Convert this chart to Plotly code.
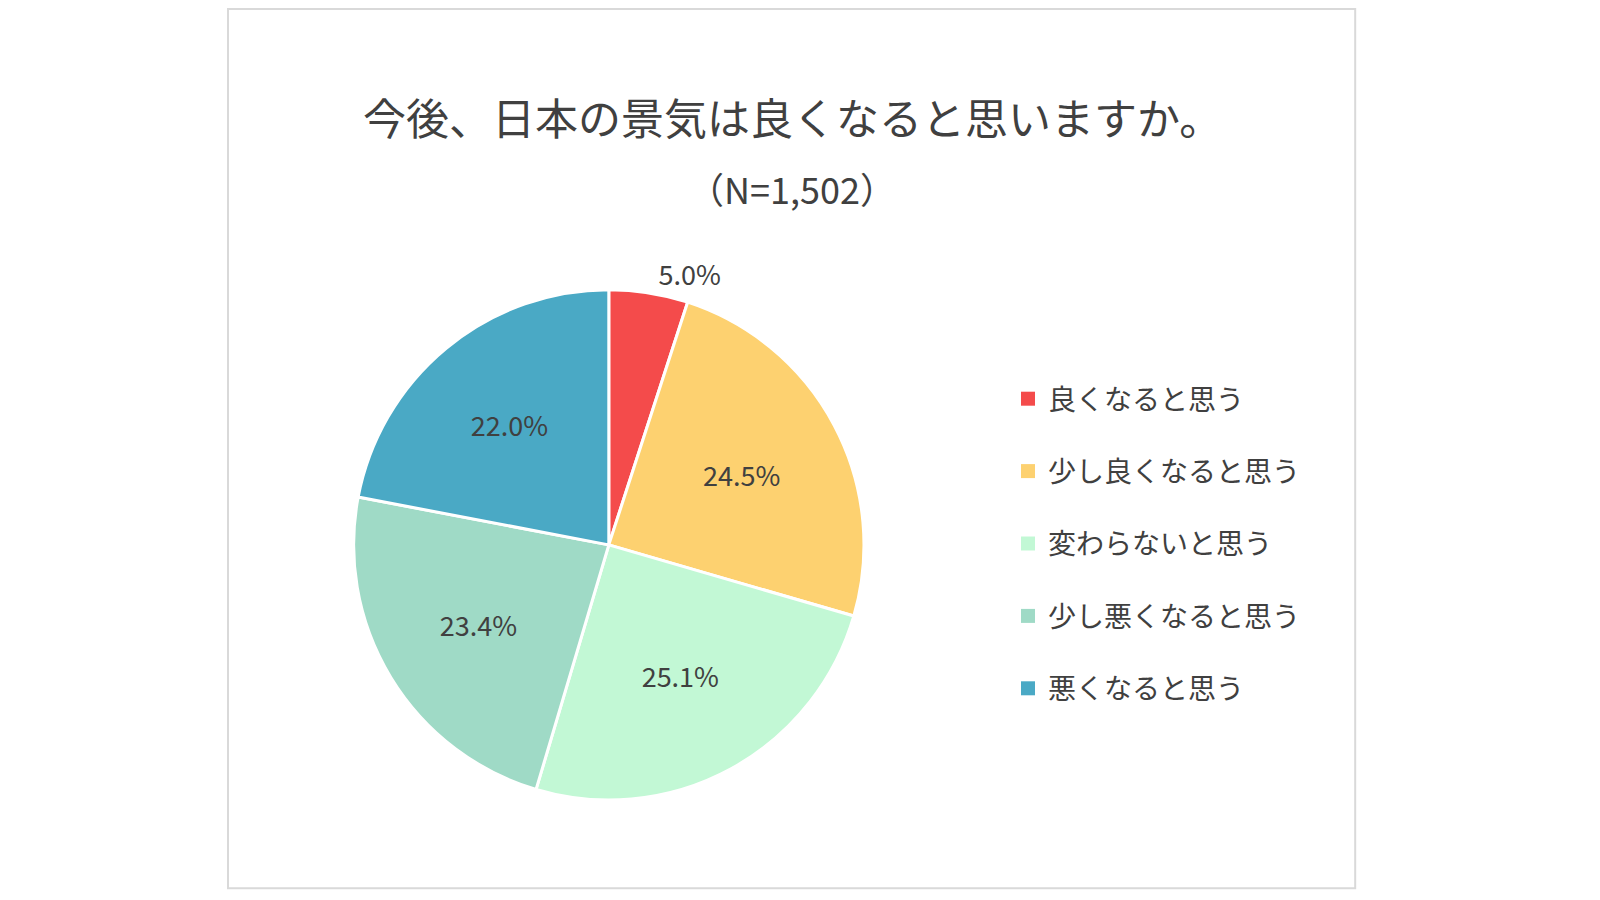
import plotly.graph_objects as go

labels = ["良くなると思う", "少し良くなると思う", "変わらないと思う", "少し悪くなると思う", "悪くなると思う"]
values = [5.0, 24.5, 25.1, 23.4, 22.0]
colors = ["#F44B4B", "#FDD170", "#C2F8D5", "#9FDAC6", "#4AA9C5"]
title = "今後、日本の景気は良くなると思いますか。"
subtitle = "（N=1,502）"

font = "Noto Sans CJK JP"
fig = go.Figure(go.Pie(
    labels=labels, values=values, sort=False, direction="clockwise", rotation=0,
    marker=dict(colors=colors, line=dict(color="white", width=3)),
    texttemplate="%{value:.1f}%", textposition=["outside", "inside", "inside", "inside", "inside"],
    insidetextorientation="horizontal",
    textfont=dict(family=font, size=27, color="#404040"),
    outsidetextfont=dict(family=font, size=27, color="#404040"),
    domain=dict(x=[0.216, 0.535], y=[0.12, 0.687]),
    hoverinfo="label+percent", showlegend=False,
))
for lab, col in zip(labels, colors):
    fig.add_trace(go.Scatter(x=[None], y=[None], mode="markers", name=lab, legendgroup=lab,
                             marker=dict(symbol="square", size=14, color=col)))
fig.update_xaxes(visible=False)
fig.update_yaxes(visible=False)
fig.update_layout(
    width=1600, height=900, margin=dict(l=0, r=0, t=0, b=0),
    paper_bgcolor="white", plot_bgcolor="white",
    font=dict(family=font, color="#404040"),
    legend=dict(x=0.625, y=0.405, xanchor="left", yanchor="middle",
                font=dict(family=font, size=28, color="#404040"),
                itemwidth=30, tracegroupgap=33),
    shapes=[dict(type="rect", xref="paper", yref="paper", x0=0.1375, x1=0.842, y0=0.022, y1=0.999,
                 line=dict(color="#D9D9D9", width=2))],
    annotations=[
        dict(text=title, x=0.49, y=1 - 75 / 900, xref="paper", yref="paper", showarrow=False,
             font=dict(family=font, size=43, color="#404040")),
        dict(text=subtitle, x=0.49, y=1 - 152 / 900, xref="paper", yref="paper", showarrow=False,
             font=dict(family=font, size=36, color="#404040")),
    ],
)
fig.write_html("out.html")
